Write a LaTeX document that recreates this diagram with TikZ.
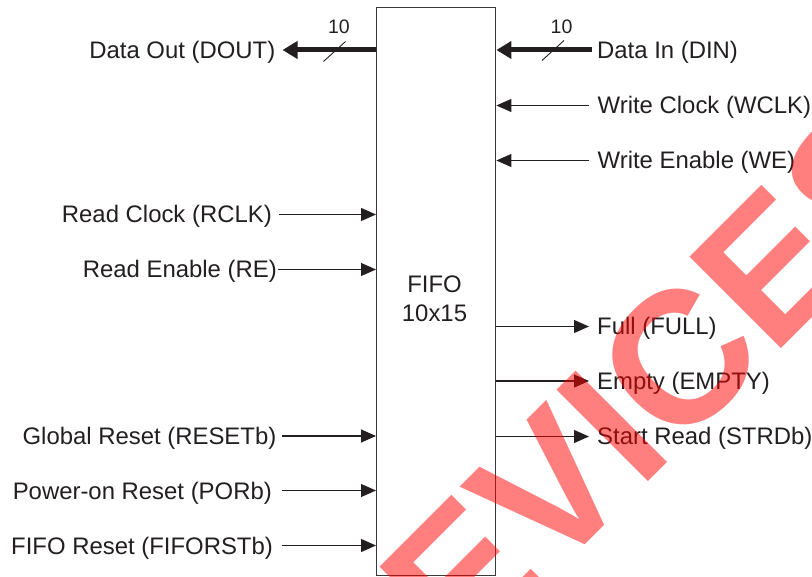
\documentclass[tikz,border=0pt]{standalone}
\usepackage{fontspec}
\setmainfont{Liberation Sans}
\usetikzlibrary{arrows.meta}
\definecolor{ink}{HTML}{231F20}
\definecolor{boxline}{HTML}{3A3A3A}
\begin{document}
\begin{tikzpicture}[x=1pt,y=-1pt,
  lbl/.style={font=\fontsize{23.9}{27}\selectfont, text=ink, inner sep=0pt, text height=20pt, text depth=3pt},
  sig/.style={draw=ink, line width=1.1pt, -{Triangle[length=15pt,width=13pt]}},
  bus/.style={draw=ink, line width=5pt, -{Triangle[length=15pt,width=17pt]}},
  slash/.style={draw=ink, line width=0.9pt},
  buswidth/.style={font=\fontsize{19.5}{22}\selectfont, text=ink, inner sep=0pt},
  blockbox/.style={draw=boxline, line width=1.4pt, inner sep=0pt, minimum width=119pt, minimum height=568pt}]
\useasboundingbox (0,0) rectangle (812,577);

% FIFO block
\node (fifo) [blockbox, anchor=north west] at (376,7) {};
\node (fifoname) [lbl] at (434.5,284) {FIFO};
\node (fifosize) [lbl] at (434.5,313) {10x15};

% left side labels
\node (dout) [lbl, anchor=east] at (275.5,50) {Data Out (DOUT)};
\node (rclk) [lbl, anchor=east] at (272,214.5) {Read Clock (RCLK)};
\node (re) [lbl, anchor=east] at (277,269.5) {Read Enable (RE)};
\node (reset) [lbl, anchor=east] at (276.5,436) {Global Reset (RESETb)};
\node (por) [lbl, anchor=east] at (272,490.5) {Power-on Reset (PORb)};
\node (fiforst) [lbl, anchor=east] at (273,545.5) {FIFO Reset (FIFORSTb)};

% right side labels
\node (din) [lbl, anchor=west] at (597,50) {Data In (DIN)};
\node (wclk) [lbl, anchor=west] at (597.5,105.5) {Write Clock (WCLK)};
\node (we) [lbl, anchor=west] at (597.5,160.5) {Write Enable (WE)};
\node (full) [lbl, anchor=west] at (597,326.5) {Full (FULL)};
\node (empty) [lbl, anchor=west] at (597,381) {Empty (EMPTY)};
\node (strd) [lbl, anchor=west] at (597,436.5) {Start Read (STRDb)};

% buses
\draw[bus] (fifo.west |- dout.east) -- ([xshift=7pt]dout.east);
\draw[bus] ([xshift=-5pt]din.west) -- (fifo.east |- din.west);
\coordinate (doutslash) at (334.5,51.5);
\coordinate (dinslash) at (553,50.5);
\draw[slash] ([shift={(-11,10)}]doutslash) -- ([shift={(11,-10)}]doutslash);
\draw[slash] ([shift={(-11,10)}]dinslash) -- ([shift={(11,-10)}]dinslash);
\node (doutw) [buswidth] at (339,27) {10};
\node (dinw) [buswidth] at (561.5,27) {10};

% inputs on the left
\draw[sig] ([xshift=7pt]rclk.east) -- (fifo.west |- rclk.east);
\draw[sig] ([xshift=0.5pt]re.east) -- (fifo.west |- re.east);
\draw[sig] ([xshift=5.5pt]reset.east) -- (fifo.west |- reset.east);
\draw[sig] ([xshift=10pt]por.east) -- (fifo.west |- por.east);
\draw[sig] ([xshift=9pt]fiforst.east) -- (fifo.west |- fiforst.east);

% inputs on the right
\draw[sig] ([xshift=-8.5pt]wclk.west) -- (fifo.east |- wclk.west);
\draw[sig] ([xshift=-8.5pt]we.west) -- (fifo.east |- we.west);

% outputs on the right
\draw[sig] (fifo.east |- full.west) -- ([xshift=-8pt]full.west);
\draw[sig] (fifo.east |- empty.west) -- ([xshift=-8pt]empty.west);
\draw[sig] (fifo.east |- strd.west) -- ([xshift=-8pt]strd.west);

% watermark
\begin{scope}
\clip (0,0) rectangle (812,577);
\node (wm) [rotate=45, anchor=base west, inner sep=0pt, text=red, text opacity=0.5,
  font=\bfseries\fontsize{188}{188}\selectfont] at (462,668) {EVICES};
\end{scope}
\end{tikzpicture}
\end{document}
